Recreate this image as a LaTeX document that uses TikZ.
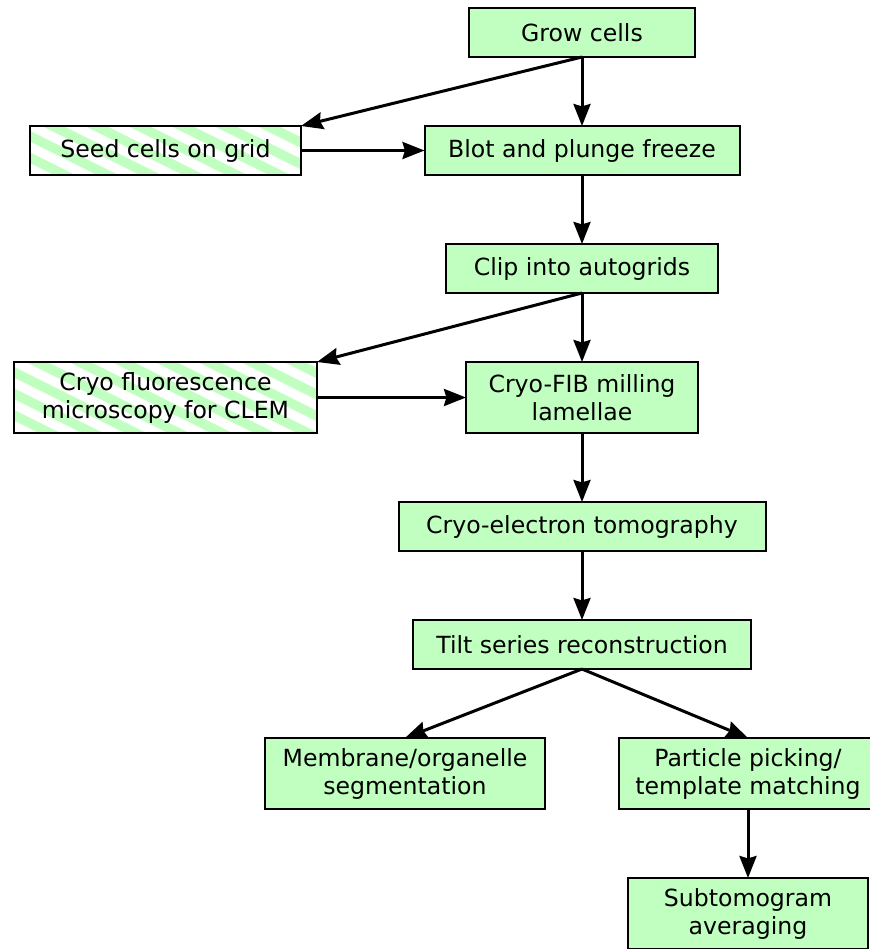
\documentclass[tikz,border=0pt]{standalone}
\usepackage{fontspec}
\setmainfont{DejaVu Sans}
\usepackage{tikz}
\usetikzlibrary{arrows.meta,backgrounds}
\definecolor{stepgreen}{HTML}{C1FFC1}
\tikzset{
    box/.style={draw, line width=1pt, inner sep=0pt, outer sep=0pt, align=center,
        minimum height=24.5pt, font=\fontsize{11.8}{14}\selectfont},
    plain/.style={box, fill=stepgreen},
    striped/.style={box},
    flow/.style={->, line width=1.5pt},
    >={Stealth[length=11pt,width=8.5pt,inset=1.2pt]}
}

\begin{document}
\begin{tikzpicture}[x=0.5pt,y=-0.5pt]
    \useasboundingbox (0,0) rectangle (870,949);
    %Preparation
    \node[plain, minimum width=113pt] (grow) at (582,32.5) {Grow cells};
    \node[striped, minimum width=135.5pt] (seed) at (165.5,150.5) {Seed cells on grid};
    \node[plain, minimum width=157.5pt] (blot) at (582,150.5) {Blot and plunge freeze};
    \node[plain, minimum width=136pt] (clip) at (582,268.5) {Clip into autogrids};
    %Milling
    \node[striped, minimum width=151.5pt, minimum height=35.5pt] (clem) at (165.5,397.5) {Cryo fluorescence\\microscopy for CLEM};
    \node[plain, minimum width=116pt, minimum height=35.5pt] (fib) at (582,397.5) {Cryo-FIB milling\\lamellae};
    %Tomography
    \node[plain, minimum width=183.5pt] (cet) at (582,526.5) {Cryo-electron tomography};
    \node[plain, minimum width=169pt] (tilt) at (582,644.5) {Tilt series reconstruction};
    %Analysis
    \node[plain, minimum width=140pt, minimum height=35.5pt] (memb) at (405,773.5) {Membrane/organelle\\segmentation};
    \node[plain, minimum width=129pt, minimum height=35.5pt] (part) at (748,773.5) {Particle picking/\\template matching};
    \node[plain, minimum width=120pt, minimum height=35.5pt] (sub) at (748,913.5) {Subtomogram\\averaging};
    %Stripes
    \begin{scope}[on background layer]
        \foreach \n in {seed,clem}{
            \begin{scope}
                \clip (\n.north west) rectangle (\n.south east);
                \foreach \s in {0,...,10}
                    \fill[stepgreen] ([shift={(\s*43-160,0)}]\n.north west) -- ++(21.5,0) -- ++(200,100) -- ++(-21.5,0) -- cycle;
            \end{scope}
        }
    \end{scope}
    %Arrows
    \draw[flow] (grow.south) -- (blot.north);
    \draw[flow] (grow.south) -- (seed.north east);
    \draw[flow] (seed.east) -- (blot.west);
    \draw[flow] (blot.south) -- (clip.north);
    \draw[flow] (clip.south) -- (fib.north);
    \draw[flow] (clip.south) -- (clem.north east);
    \draw[flow] (clem.east) -- (fib.west);
    \draw[flow] (fib.south) -- (cet.north);
    \draw[flow] (cet.south) -- (tilt.north);
    \draw[flow] (tilt.south) -- (memb.north);
    \draw[flow] (tilt.south) -- (part.north);
    \draw[flow] (part.south) -- (sub.north);
\end{tikzpicture}
\end{document}
